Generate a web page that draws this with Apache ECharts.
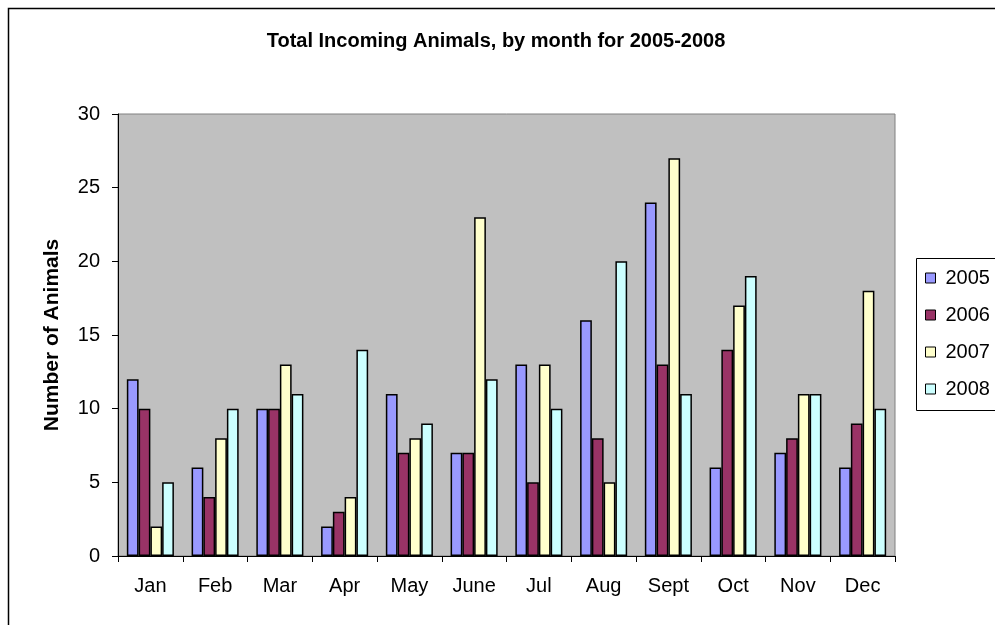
<!DOCTYPE html>
<html><head><meta charset="utf-8">
<script src="https://cdn.jsdelivr.net/npm/echarts@6/dist/echarts.min.js"></script>
<style>html,body{margin:0;padding:0;background:#fff}#c{width:995px;height:625px}</style>
</head><body><div id="c"></div>
<script>
const months = ["Jan","Feb","Mar","Apr","May","June","Jul","Aug","Sept","Oct","Nov","Dec"];
const s2005 = [12,6,10,2,11,7,13,16,24,6,7,6];
const s2006 = [10,4,10,3,7,7,5,8,13,14,8,9];
const s2007 = [2,8,13,4,8,23,13,5,27,17,11,18];
const s2008 = [5,10,11,14,9,12,10,20,11,19,11,10];
const seriesNames = ["2005","2006","2007","2008"];
const seriesColors = ["#9999FF","#993366","#FFFFCC","#CCFFFF"];
const yTicks = [0,5,10,15,20,25,30];

const chart = echarts.init(document.getElementById('c'), null, {renderer:'canvas'});
const allData = [s2005,s2006,s2007,s2008];
const font = "Liberation Sans, Arial, sans-serif";
chart.setOption({
  animation:false,
  backgroundColor:'#fff',
  textStyle:{fontFamily:font},
  title:{text:"Total Incoming Animals, by month for 2005-2008", left:491, textAlign:'center', top:26,
    textStyle:{fontSize:20, fontWeight:'bold', color:'#000', fontFamily:font}},
  graphic:[{type:'rect', shape:{x:8.5,y:8.5,width:1100,height:700}, style:{fill:null, stroke:'#000', lineWidth:1.5}, silent:true},
           {type:'rect', shape:{x:916.5,y:258.5,width:200,height:152}, style:{fill:'#fff', stroke:'#000', lineWidth:1}, silent:true, z:-1}],
  legend:{orient:'vertical', left:920, top:263, itemWidth:10, itemHeight:10, itemGap:17, icon:'rect',
    textStyle:{fontSize:20, color:'#000', fontFamily:font, padding:[0,0,0,5]},
    data:seriesNames.map((n,i)=>({name:n, itemStyle:{color:seriesColors[i], borderColor:'#000', borderWidth:1}}))},
  grid:{left:118, top:114, width:777, height:442, show:true, backgroundColor:'#C0C0C0', borderColor:'#808080', borderWidth:1},
  xAxis:{type:'category', data:months, boundaryGap:true,
    axisLine:{lineStyle:{color:'#000', width:1}},
    axisTick:{show:true, length:6, alignWithLabel:false, lineStyle:{color:'#000'}},
    axisLabel:{fontSize:20, color:'#000', margin:20, fontFamily:font}},
  yAxis:{type:'value', min:0, max:30, interval:5,
    name:"Number of Animals", nameLocation:'middle', nameGap:55, nameRotate:90,
    nameTextStyle:{fontSize:21, fontWeight:'bold', color:'#000', fontFamily:font},
    axisLine:{show:true, lineStyle:{color:'#000'}},
    axisTick:{show:true, length:6, lineStyle:{color:'#000'}},
    splitLine:{show:false},
    axisLabel:{fontSize:20, color:'#000', margin:18, fontFamily:font,
      formatter:v=>yTicks.includes(v)?String(v):''}},
  series:seriesNames.map((n,i)=>({
    name:n, type:'bar', data:allData[i], barGap:'0%', barCategoryGap:'27.3%',
    itemStyle:{color:seriesColors[i], borderColor:'#000', borderWidth:1.5}
  }))
});
</script></body></html>
